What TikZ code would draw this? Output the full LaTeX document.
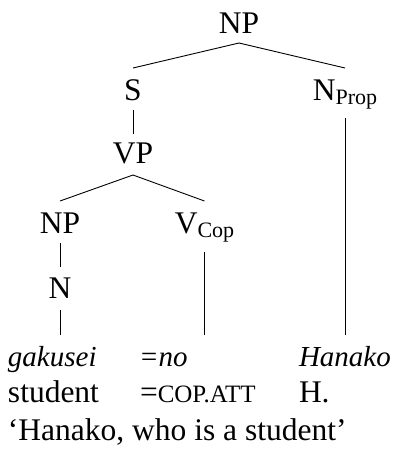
\documentclass[tikz,border=0pt]{standalone}
\usepackage{fontspec}
\setmainfont{Liberation Serif}
% lowered label on a category (N_Prop, V_Cop)
\newcommand\catsub[1]{\raisebox{-4pt}{\fontsize{22}{24}\selectfont #1}}
% small capitals for glossing abbreviations
\newcommand\glab[1]{{\fontsize{25}{28}\selectfont #1}}
\begin{document}
\begin{tikzpicture}[x=1pt,y=-1pt,
  every node/.style={inner sep=0pt, outer sep=0pt, font=\fontsize{31.5}{36}\selectfont},
  cat/.style={anchor=base, text height=20pt, text depth=0pt},
  gl/.style={anchor=base west, text height=20pt, text depth=7pt},
  obj/.style={gl, font=\fontsize{29}{33}\selectfont\itshape},
  branch/.style={line width=0.9pt},
]
\useasboundingbox (0,0) rectangle (393,455);

% tree categories
\node[cat] (np)    at (239,33)    {NP};
\node[cat] (s)     at (133,100)   {S};
\node[cat] (nprop) at (345,100)   {N\catsub{Prop}};
\node[cat] (vp)    at (133,163)   {VP};
\node[cat] (np2)   at (60,233)    {NP};
\node[cat] (vcop)  at (204.5,233) {V\catsub{Cop}};
\node[cat] (n)     at (60,298)    {N};

% words and glosses
\node[obj] (w1) at (8,366)   {gakusei};
\node[obj] (w2) at (139,366) {=no};
\node[obj] (w3) at (299,366) {Hanako};
\node[gl] (g1) at (8,402)   {student};
\node[gl] (g2) at (140,402) {=\glab{COP.ATT}};
\node[gl] (g3) at (299,402) {H.};
\node[anchor=base west] (tr) at (8,440) {‘Hanako, who is a student’};

% branches
\draw[branch] ([yshift=-10pt]np.south) -- ([yshift=12pt]s.north);
\draw[branch] ([yshift=-10pt]np.south) -- ([yshift=12pt]nprop.north);
\draw[branch] ([yshift=-10pt]s.south) -- ([yshift=9pt]vp.north);
\draw[branch] ([yshift=-12pt]vp.south) -- ([yshift=12pt]np2.north);
\draw[branch] ([yshift=-12pt]vp.south) -- ([yshift=12pt]vcop.north);
\draw[branch] ([yshift=-10pt]np2.south) -- ([yshift=11pt]n.north);
\draw[branch] ([yshift=-12pt]n.south) -- ([yshift=11pt]n.south |- w1.north);
\draw[branch] ([yshift=-19pt]vcop.south) -- ([yshift=11pt]vcop.south |- w2.north);
\draw[branch] ([yshift=-18pt]nprop.south) -- ([yshift=11pt]nprop.south |- w3.north);
\end{tikzpicture}
\end{document}
